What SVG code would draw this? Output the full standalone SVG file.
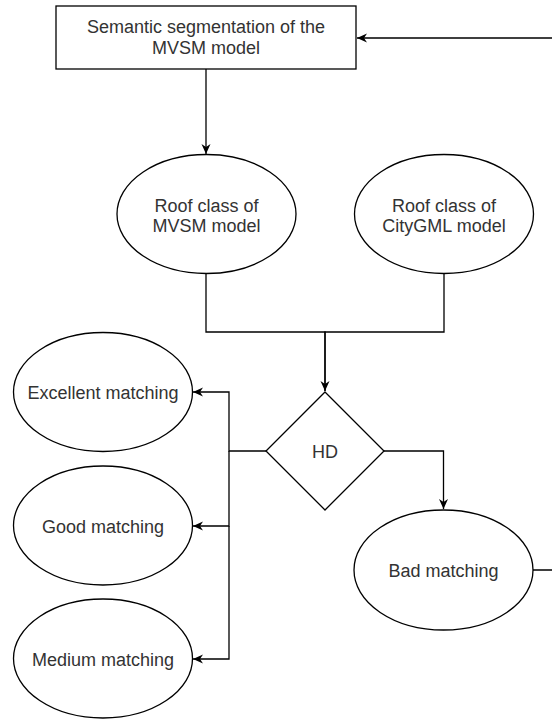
<svg xmlns="http://www.w3.org/2000/svg" width="552" height="722" viewBox="0 0 552 722">
  <style>
    .shape { fill: #ffffff; stroke: #000000; stroke-width: 1.3; }
    .edge { fill: none; stroke: #000000; stroke-width: 1.3; }
    .label { font-family: "Liberation Sans", Arial, Helvetica, sans-serif; font-size: 18px; fill: #333333; text-anchor: middle; }
  </style>
  <defs>
    <marker id="arrow" viewBox="0 0 10 10" refX="10" refY="5" markerWidth="10" markerHeight="10" markerUnits="userSpaceOnUse" orient="auto">
      <path d="M0,0.5 L10,5 L0,9.5 L3,5 Z" fill="#000000"/>
    </marker>
  </defs>
  <rect width="552" height="722" fill="#ffffff"/>

  <g id="connectors">
    <path class="edge" d="M206,69 V154" marker-end="url(#arrow)"/>
    <path class="edge" d="M206,273.5 V332 H325 V391" marker-end="url(#arrow)"/>
    <path class="edge" d="M444,273.5 V332 H325 V391"/>
    <path class="edge" d="M266,451 H229 V392 H193" marker-end="url(#arrow)"/>
    <path class="edge" d="M229,451 V526 H193" marker-end="url(#arrow)"/>
    <path class="edge" d="M229,526 V659 H193" marker-end="url(#arrow)"/>
    <path class="edge" d="M384,451 H443.5 V509" marker-end="url(#arrow)"/>
    <path class="edge" d="M533,570 H560 V38 H357" marker-end="url(#arrow)"/>
  </g>

  <g id="segmentation">
    <rect class="shape" x="56" y="6" width="300" height="63"/>
    <text class="label" x="206" y="33">Semantic segmentation of the</text>
    <text class="label" x="206" y="54">MVSM model</text>
  </g>

  <g id="roof-mvsm">
    <ellipse class="shape" cx="206.5" cy="214" rx="89.5" ry="59.5"/>
    <text class="label" x="206.5" y="211.5">Roof class of</text>
    <text class="label" x="206.5" y="232">MVSM model</text>
  </g>

  <g id="roof-citygml">
    <ellipse class="shape" cx="444" cy="214" rx="89.5" ry="59.5"/>
    <text class="label" x="444" y="211.5">Roof class of</text>
    <text class="label" x="444" y="232">CityGML model</text>
  </g>

  <g id="hd">
    <polygon class="shape" points="325,392 384,451 325,510 266,451"/>
    <text class="label" x="325" y="458">HD</text>
  </g>

  <g id="excellent">
    <ellipse class="shape" cx="103" cy="392" rx="89.5" ry="59.5"/>
    <text class="label" x="103" y="399">Excellent matching</text>
  </g>

  <g id="good">
    <ellipse class="shape" cx="103" cy="525.5" rx="89.5" ry="59.5"/>
    <text class="label" x="103" y="533">Good matching</text>
  </g>

  <g id="medium">
    <ellipse class="shape" cx="103" cy="658.5" rx="89.5" ry="59.5"/>
    <text class="label" x="103" y="666">Medium matching</text>
  </g>

  <g id="bad">
    <ellipse class="shape" cx="443.5" cy="570" rx="89.5" ry="60"/>
    <text class="label" x="443.5" y="577">Bad matching</text>
  </g>
</svg>
